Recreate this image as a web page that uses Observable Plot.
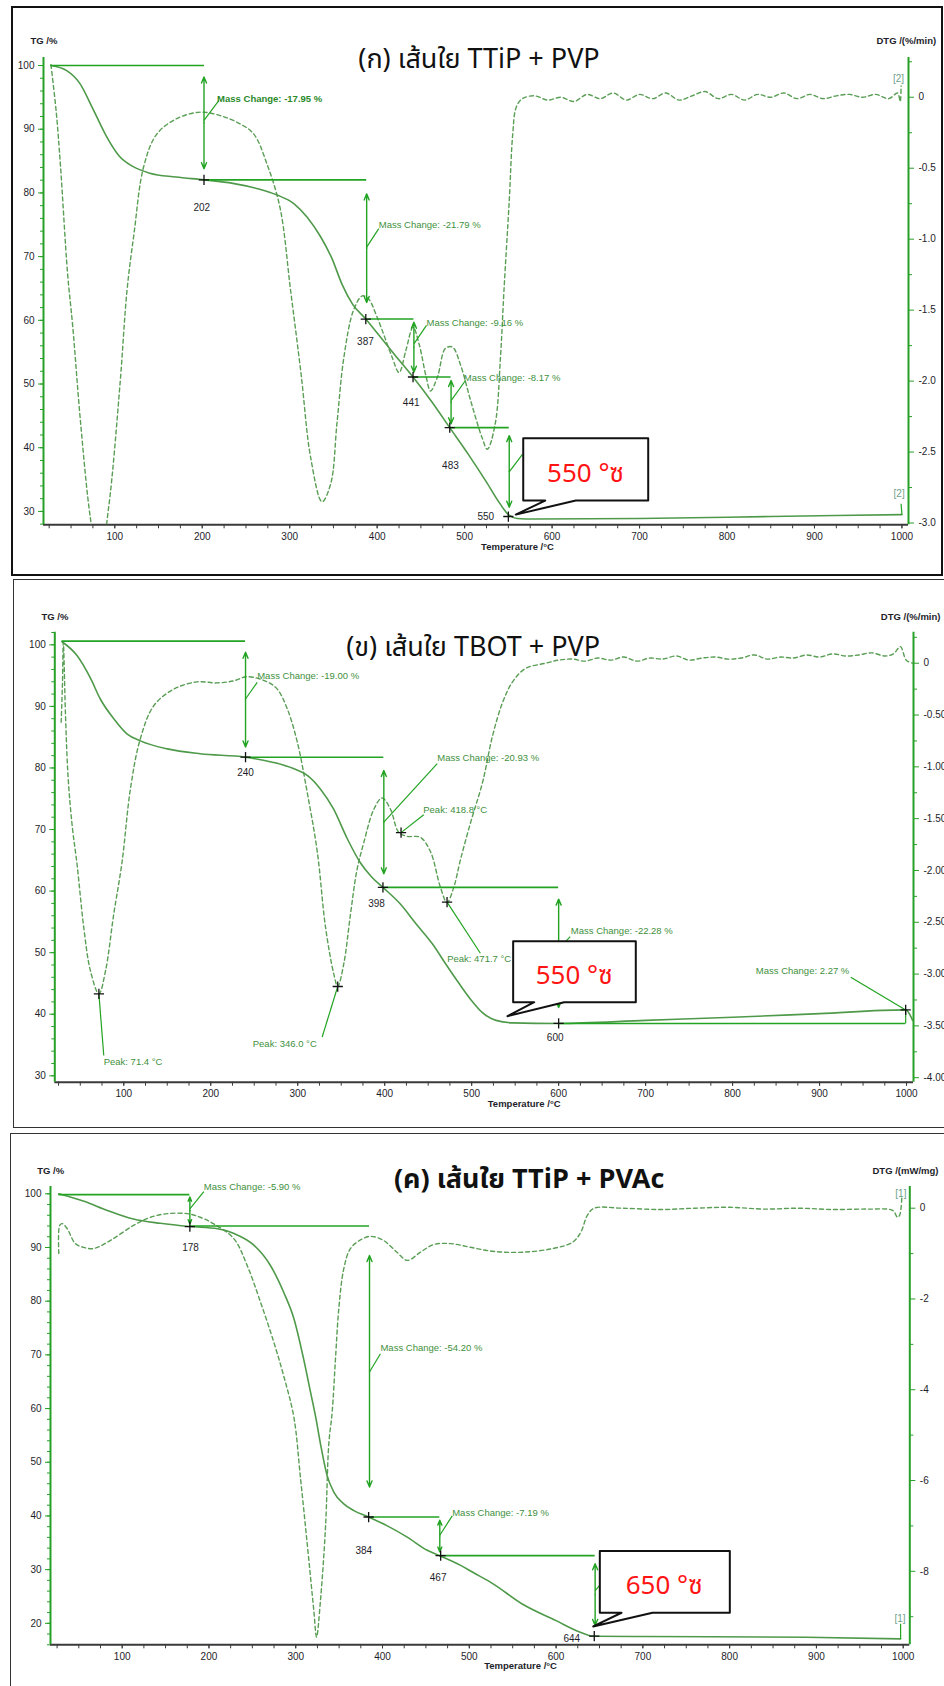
<!DOCTYPE html>
<html><head><meta charset="utf-8">
<script src="https://cdn.jsdelivr.net/npm/d3@7"></script>
<script src="https://cdn.jsdelivr.net/npm/@observablehq/plot@0.6"></script>
<style>
html,body{margin:0;padding:0;background:#fff}
body{width:944px;height:1686px;position:relative;overflow:hidden}
.box{position:absolute;box-sizing:border-box}
.plot{position:absolute;left:0}
</style></head><body>
<div class="box" style="left:11px;top:6px;width:932px;height:570px;border:2px solid #111"></div>
<div class="box" style="left:13px;top:579px;width:1000px;height:549px;border:1.5px solid #333"></div>
<div class="box" style="left:10px;top:1133px;width:1000px;height:700px;border:1.5px solid #333"></div>
<div id="p1" class="plot" style="top:0px"></div>
<div id="p2" class="plot" style="top:578px"></div>
<div id="p3" class="plot" style="top:1128px"></div>
<script>
// ================= DATA =================
const titles = ["(ก) เส้นใย TTiP + PVP", "(ข) เส้นใย TBOT + PVP", "(ค) เส้นใย TTiP + PVAc"];
// ---- Panel (ก) TTiP + PVP : [temperature °C, TG %] and [temperature °C, DTG %/min]
const tg1 = [[27,100],[45,99.2],[60,97.2],[75,93.2],[90,89.0],[105,85.8],[120,84.2],[140,83.1],[170,82.5],[202,82.05],[235,81.5],[265,80.6],[285,79.7],[305,78.3],[320,76.2],[335,73.2],[348,69.8],[360,65.6],[372,62.5],[387,60.2],[400,58.0],[420,54.6],[441,51.1],[462,47.3],[483,43.15],[505,38.8],[525,34.6],[540,31.3],[550,29.5],[560,28.9],[580,28.8],[700,28.9],[850,29.2],[1000,29.5]];
const dtg1 = [[27,0.23],[33,-0.1],[38,-0.49],[46,-1.24],[52,-1.62],[61,-2.3],[72,-2.96],[82,-3.3],[93,-2.89],[106,-2.02],[114,-1.36],[122,-0.96],[133,-0.49],[148,-0.26],[171,-0.15],[198,-0.105],[221,-0.13],[244,-0.19],[259,-0.26],[274,-0.47],[289,-0.78],[301,-1.36],[313,-1.95],[324,-2.54],[337,-2.85],[347,-2.72],[354,-2.30],[362,-1.83],[373,-1.50],[383,-1.40],[390,-1.42],[400,-1.55],[417,-1.83],[425,-1.94],[433,-1.78],[441,-1.62],[448,-1.74],[456,-1.97],[461,-2.07],[469,-1.97],[478,-1.77],[486,-1.76],[495,-1.88],[507,-2.14],[520,-2.40],[526,-2.48],[535,-2.30],[541,-1.83],[545,-1.36],[551,-0.73],[555,-0.26],[559,-0.07],[566,-0.01],[580,0.01],[595,-0.02],[610,0.0],[625,-0.03],[640,0.02],[655,-0.01],[670,0.03],[685,-0.02],[700,0.02],[715,-0.01],[730,0.03],[745,-0.02],[760,0.01],[775,0.04],[790,-0.01],[805,0.02],[820,-0.02],[835,0.02],[850,0.0],[865,0.03],[880,-0.01],[895,0.02],[910,-0.01],[925,0.01],[940,0.02],[955,0.0],[970,0.02],[985,-0.01],[995,0.03],[998,-0.03],[999,0.08]];
const hl1 = [[27,202.6,100],[202,388,82.05],[387,442,60.2],[441,484.5,51.1],[483,551,43.15]];
const ar1 = [[202,98.2,83.8],[388,79.85,62.8],[442,59.7,51.85],[484.5,50.55,43.75],[551,41.9,30.66]];
const ld1 = [[202,91.4,218.9,94.5],[388,71.5,401.8,74.4],[442,56.3,456.4,59.2],[484.5,47.4,501,50.55],[551,36.2,566.3,39.0],[1000,29.5,999,31.2]];
const lbBold1 = [[217,94.8,"Mass Change: -17.95 %"]];
const lb1 = [[401.8,75.04,"Mass Change: -21.79 %"],[456.4,59.55,"Mass Change: -9.16 %"],[499,50.9,"Mass Change: -8.17 %"]];
const mk1 = [[202,82.05],[387,60.2],[441,51.1],[483,43.15],[550,29.2]];
const mkl1 = [[199.5,77.66,"202"],[386.6,56.7,"387"],[438.9,47.05,"441"],[483.8,37.2,"483"],[524.2,29.2,"550"]];
const bk1 = [[996,97.96,"[2]"],[996.8,32.76,"[2]"]];
const co1 = [558.5,29.5,567,709.9,31.71,41.49,592.1,627.1];
const ct1 = [638.2,35.9,"550 °ซ"];

// ---- Panel (ข) TBOT + PVP
const tg2 = [[29,100.5],[46,98.3],[62,94.5],[73,91.2],[88.5,88.0],[104,85.5],[119,84.4],[150,83.1],[188,82.3],[240,81.75],[272,80.9],[295,79.9],[311,78.8],[326,76.6],[341,73.4],[357,68.5],[372,64.6],[385,62.3],[398,60.6],[418,57.9],[436,54.7],[455,51.4],[470,48.2],[486,44.9],[500,42.2],[512,40.3],[528,39.0],[547,38.6],[600,38.5],[700,39.0],[800,39.5],[900,40.1],[999,40.7],[1007,39.0]];
const dtg2 = [[28,-0.57],[29.5,-0.2],[30.5,0.2],[33,-0.5],[36,-1.1],[40.7,-1.57],[46.4,-1.95],[54,-2.55],[61.7,-2.97],[71.4,-3.19],[79,-2.97],[88.5,-2.42],[98,-1.92],[107.7,-1.21],[119,-0.73],[134.5,-0.41],[157.5,-0.25],[184,-0.18],[207,-0.19],[226.5,-0.17],[242,-0.13],[265,-0.18],[276.5,-0.25],[288,-0.44],[299.5,-0.76],[311,-1.25],[322.5,-1.82],[332,-2.55],[341.5,-3.0],[346,-3.12],[353,-2.90],[360.7,-2.42],[368,-2.0],[376,-1.73],[387.5,-1.41],[397,-1.30],[406.7,-1.41],[416,-1.63],[425.8,-1.67],[441,-1.68],[452.7,-1.82],[464,-2.16],[471.7,-2.31],[479.5,-2.16],[487,-1.90],[499,-1.53],[512.5,-1.15],[524,-0.70],[535.5,-0.38],[547,-0.18],[562,-0.05],[585,0.0],[600,0.03],[616,0.04],[630,0.02],[645,0.05],[660,0.03],[675,0.06],[690,0.02],[705,0.05],[720,0.04],[735,0.07],[750,0.03],[765,0.05],[780,0.06],[795,0.04],[810,0.05],[825,0.08],[840,0.04],[855,0.06],[870,0.05],[885,0.08],[900,0.06],[915,0.09],[930,0.07],[945,0.08],[960,0.1],[975,0.07],[985,0.09],[993,0.16],[999.6,0.03],[1007,0.0]];
const hl2 = [[29,240,100.6],[240,399,81.75],[398,600,60.6],[600,999,38.5]];
const ar2 = [[240,98.8,83.4],[399,79.6,62.8],[600,58.7,41.1]];
const ld2 = [[240,91.2,253.4,93.9],[399,71.2,460.4,80.7],[600,50.6,613.3,52.6],[418.8,69.5,444.9,72.4],[471.7,58.2,510,49.9],[71.4,43.3,77,33.3],[346,44.5,328.1,36.3],[935.9,46.0,999,40.7],[999,38.5,999,40.7]];
const lbBold2 = [];
const lb2 = [[253.4,94.9,"Mass Change: -19.00 %"],[460.4,81.65,"Mass Change: -20.93 %"],[444.3,73.25,"Peak: 418.8 °C"],[614,53.5,"Mass Change: -22.28 %"],[471.8,49.0,"Peak: 471.7 °C"],[826.7,47.0,"Mass Change: 2.27 %"],[76.9,32.2,"Peak: 71.4 °C"],[248.3,35.2,"Peak: 346.0 °C"]];
const mk2 = [[240,81.75],[398,60.6],[418.8,69.5],[471.7,58.2],[71.4,43.3],[346,44.5],[600,38.5],[999,40.7]];
const mkl2 = [[240,79.15,"240"],[390.6,57.9,"398"],[596,36.2,"600"]];
const bk2 = [];
const co2 = [541.2,39.68,547.7,688.7,41.95,51.86,571.9,606.4];
const ct2 = [617.9,46.29,"550 °ซ"];

// ---- Panel (ค) TTiP + PVAc  (DTG in mW/mg)
const tg3 = [[27,100],[56,98.6],[83,96.9],[113,95.3],[144,94.5],[178,93.9],[210,93.5],[229,92.6],[252,90.4],[271,86.6],[286,81.7],[298,76.7],[309,69.3],[317,63.1],[323,58.4],[329,53.0],[336,47.6],[344,44.4],[355,42.3],[367,41.0],[384,39.8],[405,38.2],[428,36.1],[451.5,33.6],[466,32.6],[490,30.8],[504,29.5],[527,27.4],[561,23.6],[600,20.5],[627,18.4],[643,17.6],[700,17.55],[888,17.4],[997,17.1]];
const dtg3 = [[27,-1.0],[28,-0.38],[31,-0.34],[36.6,-0.45],[46,-0.78],[55,-0.86],[67,-0.89],[86.5,-0.71],[113,-0.38],[132.6,-0.20],[152,-0.12],[175,-0.12],[190,-0.20],[205,-0.34],[228.6,-0.67],[244,-1.26],[259.4,-2.07],[274.7,-2.95],[286.2,-3.7],[297.8,-4.6],[305.4,-5.93],[313.2,-7.39],[320.8,-8.86],[324,-9.45],[328.5,-8.64],[334.3,-7.03],[338.1,-5.19],[342,-4.49],[345.8,-3.32],[349.6,-2.22],[355.4,-1.33],[363,-0.89],[374.6,-0.70],[386,-0.62],[401,-0.71],[416.7,-0.97],[428.4,-1.15],[443.7,-0.97],[459,-0.80],[478,-0.78],[501,-0.86],[527,-0.95],[561,-0.97],[596,-0.89],[619,-0.75],[628.5,-0.53],[636,-0.16],[644,0.0],[676,0.0],[720,-0.03],[760,0.0],[800,0.02],[840,-0.02],[880,0.0],[920,-0.03],[960,-0.02],[988,-0.05],[993.4,-0.2],[996,-0.15],[998.4,0.24]];
const hl3 = [[27,178,99.85],[178,385,94.0],[384,466,39.8],[466,645,32.6]];
const ar3 = [[178,99.4,94.4],[385,88.5,45.4],[466,39.2,33.3],[645,31.1,19.6]];
const ld3 = [[178,97.2,194.1,100.4],[385,66.8,397.6,70.2],[466,36.4,480.3,40.0],[645,26.1,652,27.4],[997,17.1,997,19.9]];
const lbBold3 = [];
const lb3 = [[194.1,101.36,"Mass Change: -5.90 %"],[397.6,71.25,"Mass Change: -54.20 %"],[480.3,40.6,"Mass Change: -7.19 %"]];
const mk3 = [[178,93.9],[384,39.8],[467,32.6],[644,17.6]];
const mkl3 = [[178.7,89.9,"178"],[378.4,33.6,"384"],[464.1,28.5,"467"],[618.1,17.1,"644"]];
const bk3 = [[997.3,100.0,"[1]"],[996.4,20.86,"[1]"]];
const co3 = [642.8,19.42,650.4,800.2,21.97,33.45,675.4,711.1];
const ct3 = [724.6,27.06,"650 °ซ"];

// axis tick values
const xMajor = [100,200,300,400,500,600,700,800,900,1000];
const xMinor = d3.range(25, 1001, 25);
const yMajor1 = [30,40,50,60,70,80,90,100], yMinor1 = d3.range(28, 101, 2);
const yMajor2 = [30,40,50,60,70,80,90,100], yMinor2 = d3.range(30, 103, 2);
const yMajor3 = [20,30,40,50,60,70,80,90,100], yMinor3 = d3.range(16, 101, 2);
const rMajor1 = [0,-0.5,-1,-1.5,-2,-2.5,-3], rMinor1 = [0.25,-0.25,-0.75,-1.25,-1.75,-2.25,-2.75];
const rMajor2 = [0,-0.5,-1,-1.5,-2,-2.5,-3,-3.5,-4], rMinor2 = [0.25,-0.25,-0.75,-1.25,-1.75,-2.25,-2.75,-3.25,-3.75];
const rMajor3 = [0,-2,-4,-6,-8], rMinor3 = [-1,-3,-5,-7,-9];

// ================= STYLE =================
const GAXIS = "#27a027", XAXIS = "#3a3a3a", TICKTXT = "#1e1e2a";
const TGC = "#4f9a4a", DTGC = "#5a9e55", ANN = "#22a322", LBL = "#3f9040";
const FONT = "'Liberation Sans', Arial, sans-serif";
const THAI = "'Noto Sans Thai','Noto Sans Thai UI','Leelawadee UI',Tahoma,'Noto Sans',sans-serif";

function panel(p) {
  const toY = v => p.a + p.b * v;
  const X = d => d[0], Y = d => d[1], T2 = d => d[2];
  const c = p.co; // tipT, tipY, x1, x2, yBot, yTop, base1, base2
  const poly = [[c[2],c[5]],[c[3],c[5]],[c[3],c[4]],[c[7],c[4]],[c[0],c[1]],[c[6],c[4]],[c[2],c[4]]];
  const marks = [
    Plot.ruleY([p.yd[0]], {stroke: XAXIS, strokeWidth: 2}),
    Plot.ruleX([p.xd[0]], {stroke: GAXIS, strokeWidth: 2}),
    Plot.ruleX([p.xd[1]], {stroke: GAXIS, strokeWidth: 2}),
    Plot.axisX(xMajor, {anchor: "bottom", tickSize: 4, tickPadding: 4, stroke: XAXIS, fill: TICKTXT, label: null, tickFormat: d => String(d), fontSize: 10}),
    Plot.axisX(xMinor, {anchor: "bottom", tickSize: 4, stroke: XAXIS, fill: "none", label: null}),
    Plot.axisY(p.yMaj, {anchor: "left", tickSize: 5, tickPadding: 4, stroke: GAXIS, fill: TICKTXT, label: null, tickFormat: d => String(d), fontSize: 10}),
    Plot.axisY(p.yMin, {anchor: "left", tickSize: 3, stroke: GAXIS, fill: "none", label: null}),
    Plot.axisY(p.rMaj.map(toY), {anchor: "right", tickSize: 5, tickPadding: 5, stroke: GAXIS, fill: TICKTXT, label: null, tickFormat: v => p.fmt((v - p.a) / p.b), fontSize: 10}),
    Plot.axisY(p.rMin.map(toY), {anchor: "right", tickSize: 3, stroke: GAXIS, fill: "none", label: null}),
    Plot.line(p.dtg, {x: X, y: d => toY(d[1]), stroke: DTGC, strokeWidth: 1.4, strokeDasharray: "4,3", curve: "catmull-rom", clip: true}),
    Plot.line(p.tg, {x: X, y: Y, stroke: TGC, strokeWidth: 1.6, curve: "monotone-x", clip: true}),
    Plot.ruleY(p.hl, {x1: X, x2: Y, y: T2, stroke: ANN, strokeWidth: 1.6}),
    Plot.arrow(p.ar, {x1: X, x2: X, y1: d => (d[1] + d[2]) / 2, y2: d => d[1], stroke: ANN, strokeWidth: 1.4, headLength: 7, headAngle: 45}),
    Plot.arrow(p.ar, {x1: X, x2: X, y1: d => (d[1] + d[2]) / 2, y2: d => d[2], stroke: ANN, strokeWidth: 1.4, headLength: 7, headAngle: 45}),
    Plot.link(p.ld, {x1: X, y1: Y, x2: T2, y2: d => d[3], stroke: ANN, strokeWidth: 1.2}),
    Plot.text(p.lb, {x: X, y: Y, text: T2, textAnchor: "start", fill: LBL, fontSize: 9.5}),
    Plot.text(p.lbB, {x: X, y: Y, text: T2, textAnchor: "start", fill: "#2a8a2a", fontSize: 9.5, fontWeight: "bold"}),
    Plot.dot(p.mk, {x: X, y: Y, symbol: "plus", r: 3.4, stroke: "#111", strokeWidth: 1.3}),
    Plot.text(p.mkl, {x: X, y: Y, text: T2, fill: TICKTXT, fontSize: 10}),
    Plot.text(p.bk, {x: X, y: Y, text: T2, fill: "#6f9f8c", fontSize: 10}),
    Plot.line(poly, {x: X, y: Y, curve: "linear-closed", fill: "white", stroke: "#111", strokeWidth: 2}),
    Plot.text([p.ct], {x: X, y: Y, text: T2, fill: "#ff1414", fontSize: 26, fontFamily: THAI}),
    Plot.text(["TG /%"], {frameAnchor: "top-left", dx: p.tgx, dy: p.tty, text: d => d, textAnchor: "start", fill: TICKTXT, fontSize: 9.5, fontWeight: "bold"}),
    Plot.text([p.dtgLabel], {frameAnchor: "top-right", dx: p.dgx, dy: p.tty, text: d => d, textAnchor: "start", fill: TICKTXT, fontSize: 9.5, fontWeight: "bold"}),
    Plot.text(["Temperature /°C"], {frameAnchor: "bottom", dx: p.tmx, dy: p.tmy, text: d => d, fill: TICKTXT, fontSize: 9.5, fontWeight: "bold"}),
    Plot.text([p.title], {frameAnchor: "top", dx: p.tdx, dy: p.tdy, text: d => d, fill: "#111", fontSize: 27, fontFamily: THAI, fontWeight: p.tw})
  ];
  return Plot.plot({
    width: 944, height: p.height,
    marginTop: p.mt, marginBottom: p.mb, marginLeft: p.mL, marginRight: p.mr,
    x: {domain: p.xd}, y: {domain: p.yd},
    style: {background: "none", fontFamily: FONT, fontSize: "10px", overflow: "visible"},
    marks
  });
}

const fmt1 = v => Math.abs(v) < 1e-6 ? "0" : v.toFixed(1);
const fmt2 = v => Math.abs(v) < 1e-6 ? "0" : v.toFixed(2);
const fmt3 = v => String(Math.round(v));

document.getElementById("p1").append(panel({
  height: 578, mt: 57, mb: 53.7, mL: 43, mr: 36, xd: [18.5, 1007.5], yd: [27.9, 101.26],
  a: 95.02, b: 22.28, fmt: fmt1, yMaj: yMajor1, yMin: yMinor1, rMaj: rMajor1, rMin: rMinor1,
  tg: tg1, dtg: dtg1, hl: hl1, ar: ar1, ld: ld1, lb: lb1, lbB: lbBold1, mk: mk1, mkl: mkl1, bk: bk1, co: co1, ct: ct1,
  title: titles[0], tdx: 3, tdy: -9, tw: "normal", dtgLabel: "DTG /(%/min)",
  tgx: -13, dgx: -32, tty: -20, tmx: 41.5, tmy: 25
}));
document.getElementById("p2").append(panel({
  height: 550, mt: 53.7, mb: 46.3, mL: 54.3, mr: 31, xd: [20.7, 1008], yd: [28.96, 102.05],
  a: 97.01, b: 16.83, fmt: fmt2, yMaj: yMajor2, yMin: yMinor2, rMaj: rMajor2, rMin: rMinor2,
  tg: tg2, dtg: dtg2, hl: hl2, ar: ar2, ld: ld2, lb: lb2, lbB: lbBold2, mk: mk2, mkl: mkl2, bk: bk2, co: co2, ct: ct2,
  title: titles[1], tdx: -11, tdy: 4.7, tw: "normal", dtgLabel: "DTG /(%/min)",
  tgx: -13.3, dgx: -32.7, tty: -19.4, tmx: 40, tmy: 24.3
}));
document.getElementById("p3").append(panel({
  height: 558, mt: 58, mb: 41.7, mL: 50, mr: 34.7, xd: [17.4, 1007.6], yd: [16.0, 101.36],
  a: 97.32, b: 8.454, fmt: fmt3, yMaj: yMajor3, yMin: yMinor3, rMaj: rMajor3, rMin: rMinor3,
  tg: tg3, dtg: dtg3, hl: hl3, ar: ar3, ld: ld3, lb: lb3, lbB: lbBold3, mk: mk3, mkl: mkl3, bk: bk3, co: co3, ct: ct3,
  title: titles[2], tdx: 49, tdy: -18, tw: "bold", dtgLabel: "DTG /(mW/mg)",
  tgx: -13.3, dgx: -37.3, tty: -19.3, tmx: 40.4, tmy: 24
}));
</script>
</body></html>
